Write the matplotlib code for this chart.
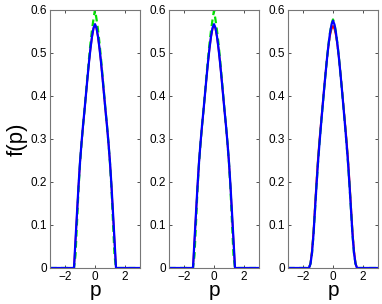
import matplotlib
matplotlib.use("Agg")
import matplotlib.pyplot as plt

plt.rcParams['font.family'] = ['Liberation Sans', 'DejaVu Sans']

# momentum grid shared by all panels
p = [-3.0, -1.6, -1.5, -1.4, -1.3, -1.2, -1.1, -1.0, -0.9, -0.8, -0.7, -0.6,
     -0.5, -0.4, -0.3, -0.2, -0.1, 0.0, 0.1, 0.2, 0.3, 0.4, 0.5, 0.6, 0.7,
     0.8, 0.9, 1.0, 1.1, 1.2, 1.3, 1.4, 1.5, 1.6, 3.0]

# panel 1
red_1 = [0, 0, 0, 0, 0.062, 0.126, 0.189, 0.244, 0.289, 0.329, 0.365, 0.403,
         0.441, 0.477, 0.509, 0.536, 0.556, 0.565, 0.556, 0.536, 0.509, 0.477,
         0.441, 0.403, 0.365, 0.329, 0.289, 0.244, 0.189, 0.126, 0.062, 0, 0, 0, 0]
green_1 = [0, 0, 0, 0, 0.03, 0.105, 0.182, 0.243, 0.289, 0.33, 0.367, 0.407,
           0.447, 0.486, 0.522, 0.553, 0.578, 0.600, 0.578, 0.553, 0.522, 0.486,
           0.447, 0.407, 0.367, 0.33, 0.289, 0.243, 0.182, 0.105, 0.03, 0, 0, 0, 0]
blue_1 = [0, 0, 0, 0, 0.065, 0.128, 0.19, 0.245, 0.29, 0.33, 0.366, 0.404,
          0.442, 0.478, 0.51, 0.537, 0.557, 0.566, 0.557, 0.537, 0.51, 0.478,
          0.442, 0.404, 0.366, 0.33, 0.29, 0.245, 0.19, 0.128, 0.065, 0, 0, 0, 0]

# panel 2
red_2 = [0, 0, 0, 0, 0.062, 0.126, 0.189, 0.244, 0.289, 0.329, 0.365, 0.403,
         0.441, 0.477, 0.509, 0.536, 0.555, 0.564, 0.555, 0.536, 0.509, 0.477,
         0.441, 0.403, 0.365, 0.329, 0.289, 0.244, 0.189, 0.126, 0.062, 0, 0, 0, 0]
green_2 = [0, 0, 0, 0, 0.03, 0.105, 0.182, 0.243, 0.289, 0.33, 0.367, 0.407,
           0.447, 0.486, 0.521, 0.551, 0.576, 0.598, 0.576, 0.551, 0.521, 0.486,
           0.447, 0.407, 0.367, 0.33, 0.289, 0.243, 0.182, 0.105, 0.03, 0, 0, 0, 0]
blue_2 = [0, 0, 0, 0, 0.065, 0.128, 0.19, 0.245, 0.29, 0.33, 0.366, 0.404,
          0.442, 0.478, 0.51, 0.537, 0.557, 0.566, 0.557, 0.537, 0.51, 0.478,
          0.442, 0.404, 0.366, 0.33, 0.29, 0.245, 0.19, 0.128, 0.065, 0, 0, 0, 0]

# panel 3
red_3 = [0, 0, 0.012, 0.042, 0.086, 0.145, 0.203, 0.256, 0.3, 0.339, 0.377,
         0.415, 0.452, 0.486, 0.515, 0.539, 0.554, 0.562, 0.554, 0.539, 0.515,
         0.486, 0.452, 0.415, 0.377, 0.339, 0.3, 0.256, 0.203, 0.145, 0.086,
         0.042, 0.012, 0, 0]
green_3 = [0, 0, 0.01, 0.035, 0.078, 0.135, 0.192, 0.245, 0.29, 0.332, 0.372,
           0.412, 0.45, 0.487, 0.519, 0.546, 0.566, 0.577, 0.566, 0.546, 0.519,
           0.487, 0.45, 0.412, 0.372, 0.332, 0.29, 0.245, 0.192, 0.135, 0.078,
           0.035, 0.01, 0, 0]
blue_3 = [0, 0, 0.01, 0.035, 0.078, 0.135, 0.192, 0.245, 0.29, 0.332, 0.372,
          0.412, 0.45, 0.486, 0.518, 0.545, 0.565, 0.574, 0.565, 0.545, 0.518,
          0.486, 0.45, 0.412, 0.372, 0.332, 0.29, 0.245, 0.192, 0.135, 0.078,
          0.035, 0.01, 0, 0]

panels = [(red_1, green_1, blue_1), (red_2, green_2, blue_2), (red_3, green_3, blue_3)]
lefts = [50 / 382, 169 / 382, 288 / 382]

fig = plt.figure(figsize=(3.82, 3.04), dpi=100)
for i, (red, green, blue) in enumerate(panels):
    ax = fig.add_axes([lefts[i], 36 / 304, 90 / 382, 258.5 / 304])
    ax.plot(p, red, color='#ff0000', lw=1.3)
    ax.plot(p, green, color='#00e000', lw=1.6, ls=(0, (3, 2)))
    ax.plot(p, blue, color='#0000ff', lw=1.6)
    ax.set_xlim(-3, 3)
    ax.set_ylim(0, 0.6)
    ax.set_xticks([-2, 0, 2])
    ax.set_yticks([0, 0.1, 0.2, 0.3, 0.4, 0.5, 0.6])
    ax.set_yticklabels(['0', '0.1', '0.2', '0.3', '0.4', '0.5', '0.6'])
    ax.tick_params(direction='in', length=2.5, width=0.6, labelsize=8.5,
                   top=True, right=True, pad=2, colors='#333333',
                   labelcolor='black')
    for s in ax.spines.values():
        s.set_color('#777777')
        s.set_linewidth(0.8)
    ax.set_xlabel('p', fontsize=15, labelpad=-1)
    if i == 0:
        ax.set_ylabel('f(p)', fontsize=16, labelpad=2)

fig.savefig('out.png', dpi=100)
